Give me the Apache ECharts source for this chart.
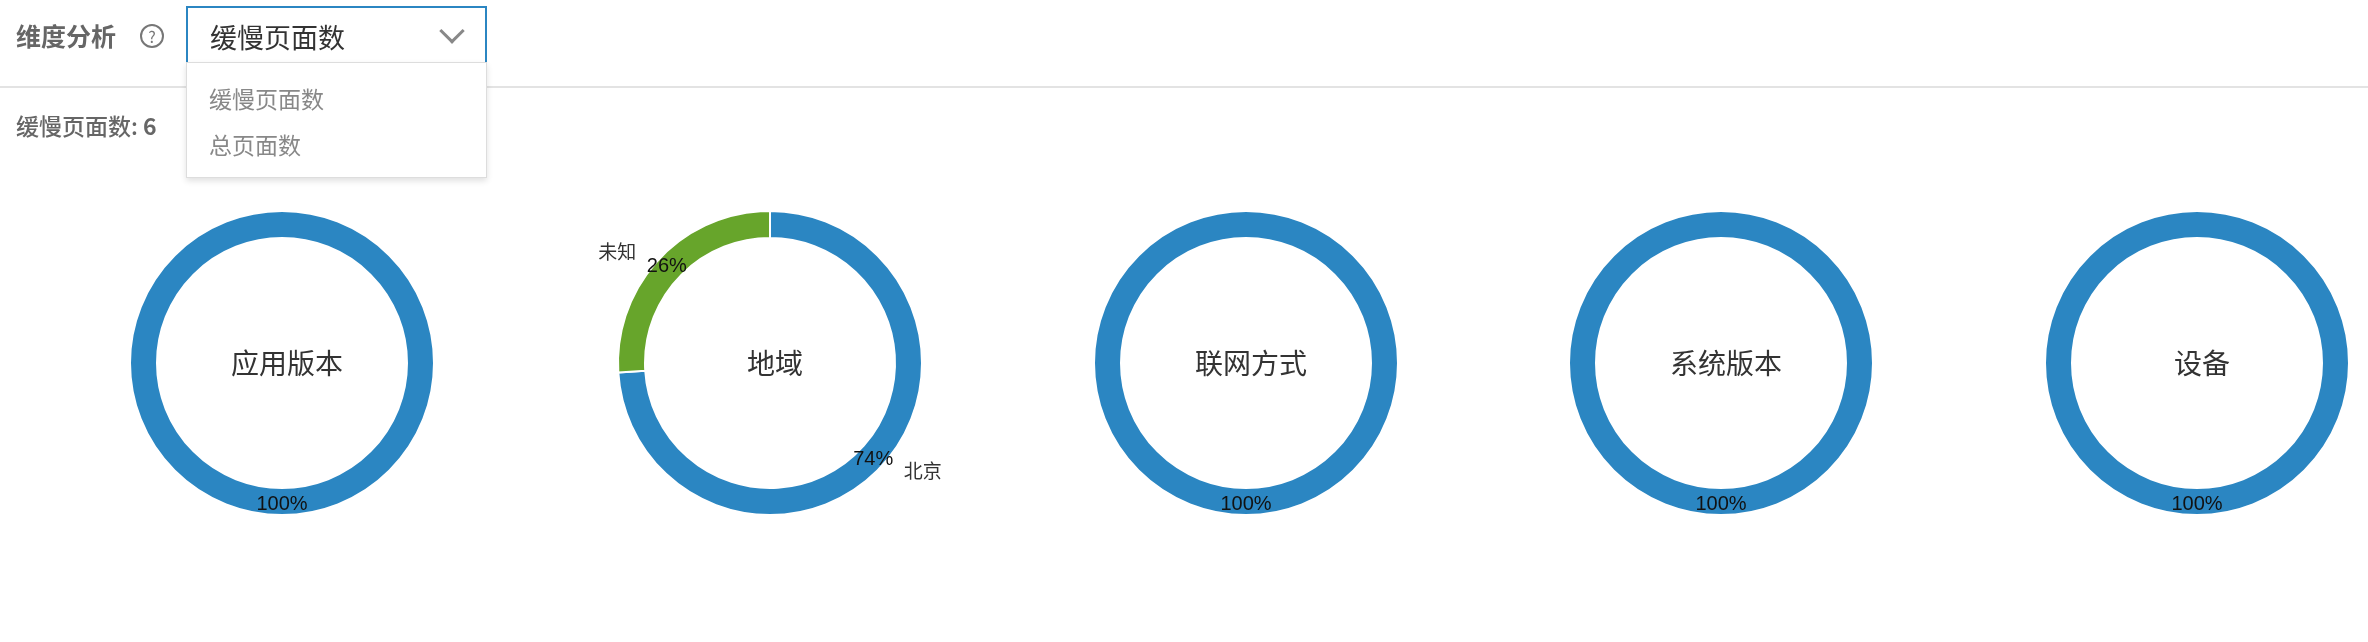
<!DOCTYPE html>
<html>
<head>
<meta charset="utf-8">
<script src="https://cdn.jsdelivr.net/npm/echarts@6/dist/echarts.min.js"></script>
<style>
  body { margin: 0; font-family: "Noto Sans CJK SC", "Liberation Sans", sans-serif; background: #fff; }
  #chart-container { position: absolute; left: 0; top: 0; width: 2368px; height: 642px; }
  .hdr { position: absolute; left: 0; top: 0; width: 2368px; height: 86px; border-bottom: 2px solid #e3e3e3; }
  .ttl { position: absolute; left: 16px; top: 17px; font-size: 25px; font-weight: bold; color: #666; }
  .q { position: absolute; left: 140px; top: 24px; width: 20px; height: 20px; border: 2px solid #777; border-radius: 50%;
       font-size: 16px; line-height: 20px; text-align: center; color: #777; }
  .sel { position: absolute; left: 186px; top: 6px; width: 297px; height: 55px; border: 2px solid #2b86c2; border-bottom: none; background: #fff; }
  .sel span { position: absolute; left: 22px; top: 9px; font-size: 27px; color: #333; }
  .sel i { position: absolute; right: 24px; top: 14px; width: 15px; height: 15px; border-right: 3px solid #888; border-bottom: 3px solid #888; transform: rotate(45deg); }
  .menu { position: absolute; left: 186px; top: 62px; width: 299px; height: 114px; background: #fff; border: 1px solid #ddd; box-shadow: 0 3px 6px rgba(0,0,0,0.12); z-index: 5; }
  .menu div { position: absolute; left: 22px; font-size: 23px; color: #888; }
  .sub { position: absolute; left: 16px; top: 108px; font-size: 23px; color: #666; font-weight: 500; }
</style>
</head>
<body>
<div id="chart-container"></div>
<div class="hdr">
  <div class="ttl">维度分析</div>
  <div class="q">?</div>
  <div class="sel"><span>缓慢页面数</span><i></i></div>
</div>
<div class="sub">缓慢页面数: <b>6</b></div>
<div class="menu">
  <div style="top:18px">缓慢页面数</div>
  <div style="top:64px">总页面数</div>
</div>
<script>
// dimensions and their slices
const dims = ["应用版本", "地域", "联网方式", "系统版本", "设备"];
const versionData = [{ name: "6.10.2", value: 6 }];
const regionData = [{ name: "北京", value: 74 }, { name: "未知", value: 26 }];
const networkData = [{ name: "WiFi", value: 6 }];
const osData = [{ name: "iOS 9.3.2", value: 6 }];
const deviceData = [{ name: "iPad Mini 2", value: 6 }];
const dimData = [versionData, regionData, networkData, osData, deviceData];
const centersX = [282, 770, 1246, 1721, 2197];
const colors = ["#2b86c2", "#67a52b"];

const dom = document.getElementById("chart-container");
const chart = echarts.init(dom, null, { renderer: "canvas" });

const series = [];
const titles = [];
dims.forEach((d, i) => {
  const center = [centersX[i], 363];
  const colored = dimData[i].map((p, k) => ({ ...p, itemStyle: { color: colors[k % colors.length] } }));
  // ring with percent inside
  series.push({
    type: "pie",
    radius: [125, 152],
    center,
    startAngle: 90,
    clockwise: true,
    data: colored,
    itemStyle: { borderColor: "#fff", borderWidth: 2 },
    label: {
      show: true,
      position: "inside",
      formatter: "{d}%",
      color: "#111",
      fontSize: 20,
      fontFamily: "Liberation Sans",
    },
    labelLine: { show: false },
    silent: true,
  });
  // transparent copy for outside names (end just short of full circle so the label shows)
  series.push({
    type: "pie",
    radius: [125, 152],
    center,
    startAngle: 90,
    endAngle: -269.9,
    data: colored.map((p) => ({ ...p, itemStyle: { color: "rgba(0,0,0,0)" } })),
    label: {
      show: true,
      position: "outside",
      formatter: "{b}",
      color: "#333",
      fontSize: 19,
      fontFamily: "Liberation Sans, Noto Sans CJK SC",
    },
    labelLine: { show: true, length: 8, length2: 12, smooth: true, lineStyle: { width: 2 } },
    silent: true,
  });
  titles.push({
    text: d,
    left: centersX[i],
    top: 344,
    textAlign: "center",
    textStyle: { fontSize: 28, fontWeight: "normal", color: "#333", fontFamily: "Noto Sans CJK SC" },
  });
});

chart.setOption({
  animation: false,
  title: titles,
  series,
});
</script>
</body>
</html>
